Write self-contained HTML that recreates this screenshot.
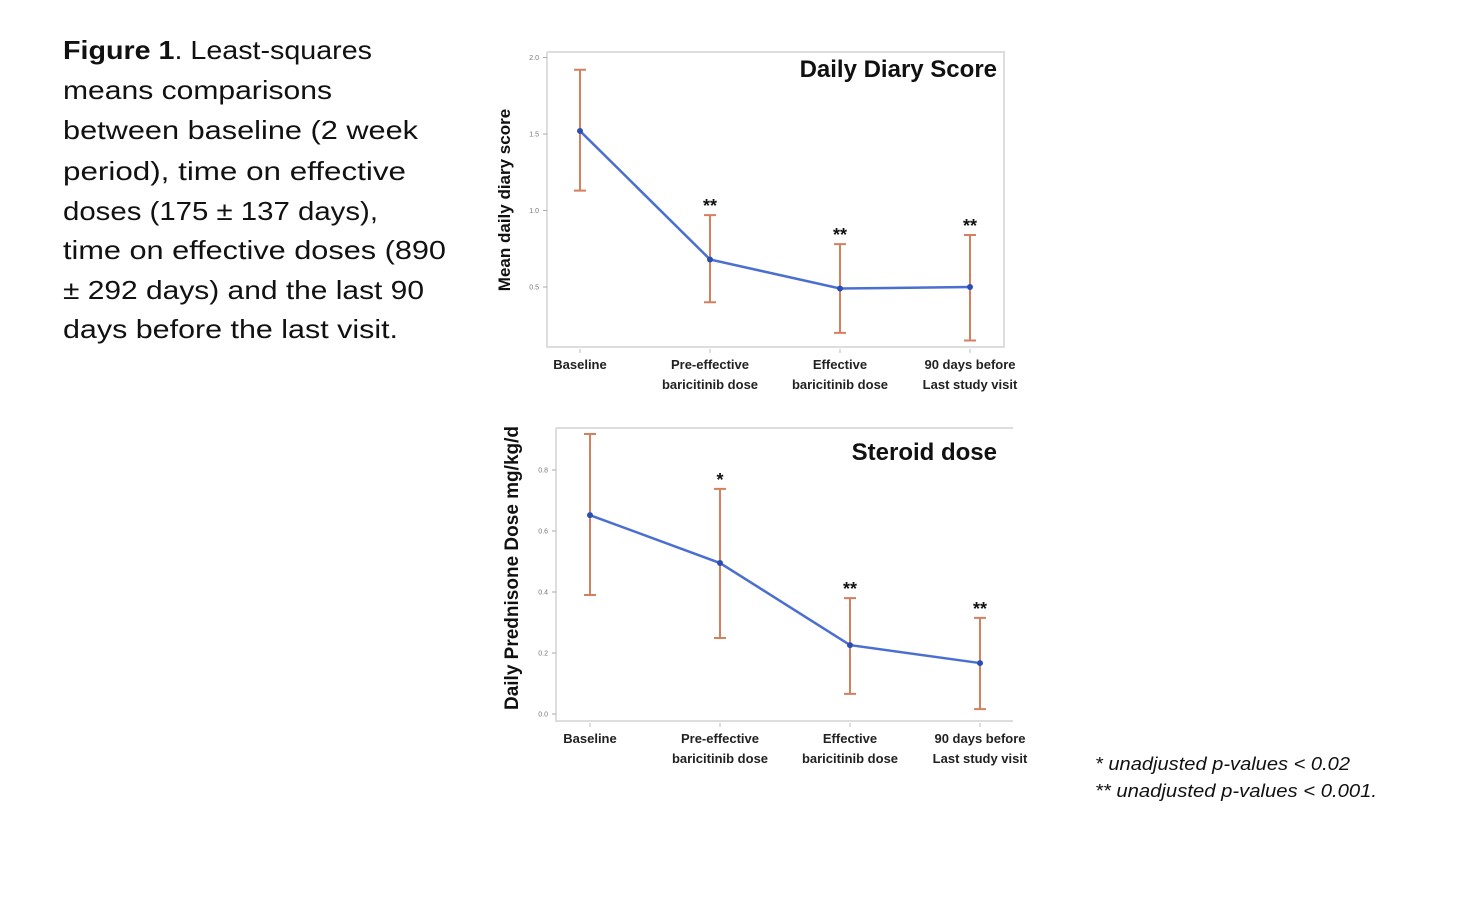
<!DOCTYPE html>
<html><head><meta charset="utf-8"><style>
body{margin:0;background:#fff;width:1472px;height:915px;overflow:hidden;font-family:"Liberation Sans",sans-serif}
svg{position:absolute;left:0;top:0}
</style></head><body>
<svg id="s" width="1472" height="915">
<g font-size="26" fill="#111">
<text x="63" y="59" textLength="309" lengthAdjust="spacingAndGlyphs"><tspan font-weight="bold">Figure 1</tspan>. Least-squares</text>
<text x="63" y="99" textLength="269" lengthAdjust="spacingAndGlyphs">means comparisons</text>
<text x="63" y="139" textLength="355" lengthAdjust="spacingAndGlyphs">between baseline (2 week</text>
<text x="63" y="180" textLength="343" lengthAdjust="spacingAndGlyphs">period), time on effective</text>
<text x="63" y="220" textLength="315" lengthAdjust="spacingAndGlyphs">doses (175 ± 137 days),</text>
<text x="63" y="259" textLength="383" lengthAdjust="spacingAndGlyphs">time on effective doses (890</text>
<text x="63" y="299" textLength="361" lengthAdjust="spacingAndGlyphs">± 292 days) and the last 90</text>
<text x="63" y="338" textLength="335" lengthAdjust="spacingAndGlyphs">days before the last visit.</text>
</g>
<g font-size="18" font-style="italic" fill="#111">
<text x="1095" y="770" textLength="255" lengthAdjust="spacingAndGlyphs">* unadjusted p-values &lt; 0.02</text>
<text x="1095" y="797" textLength="282" lengthAdjust="spacingAndGlyphs">** unadjusted p-values &lt; 0.001.</text>
</g>
</svg>
<script>
const categories1=["Baseline","Pre-effective|baricitinib dose","Effective|baricitinib dose","90 days before|Last study visit"];
const diaryMean=[1.52,0.68,0.49,0.50];
const diaryLow=[1.13,0.40,0.20,0.15];
const diaryHigh=[1.92,0.97,0.78,0.84];
const diarySig=["","**","**","**"];
const diaryTicks=[0.5,1.0,1.5,2.0];
const steroidMean=[0.652,0.495,0.226,0.167];
const steroidLow=[0.39,0.249,0.066,0.016];
const steroidHigh=[0.918,0.738,0.38,0.315];
const steroidSig=["","*","**","**"];
const steroidTicks=[0.0,0.2,0.4,0.6,0.8];
const NS="http://www.w3.org/2000/svg",svg=document.getElementById('s');
function mk(t,a,p){const e=document.createElementNS(NS,t);for(const k in a)e.setAttribute(k,a[k]);(p||svg).appendChild(e);return e;}
function chart(o){
 const g=mk('g',{});
 
 
 const y=v=>o.y0+(v-o.v0)*o.k, x=i=>o.xs+i*o.dx;
 const fr=mk('path',{d:`M${o.L} ${o.T}H${o.R}${o.rb?'V'+o.B:'M'+o.R+' '+o.B}H${o.L}V${o.T}`,fill:'none',stroke:'#ddd','stroke-width':2},g);
 
 o.ticks.forEach(t=>{const yy=y(t);
  const l=mk('line',{x1:o.L-4,x2:o.L,y1:yy,y2:yy,stroke:'#aaa'},g);
  const tx=mk('text',{x:o.L-8,y:yy+2.5,'font-size':7,fill:'#777','text-anchor':'end'},g);tx.textContent=t.toFixed(1);
  });
 const yt=mk('text',{transform:`translate(${o.yl[0]},${o.yl[1]}) rotate(-90)`,'font-size':o.ylfs,'font-weight':'bold','text-anchor':'middle',fill:'#111'},g);
 yt.textContent=o.ylabel;
 const tt=mk('text',{x:o.tt[0],y:o.tt[1],'font-size':24,'font-weight':'bold','text-anchor':'end',fill:'#111'},g);
 tt.textContent=o.title;
 categories1.forEach((c,i)=>{c.split('|').forEach((ln,j)=>{const t=mk('text',{x:x(i),y:o.B+22+j*20,'font-size':13,'font-weight':'bold','text-anchor':'middle',fill:'#222'},g);t.textContent=ln;
  });
  mk('line',{x1:x(i),x2:x(i),y1:o.B+2,y2:o.B+6,stroke:'#bbb'},g);});
 o.mean.forEach((m,i)=>{const xx=x(i);
  const e=mk('path',{d:`M${xx} ${y(o.hi[i])}V${y(o.lo[i])}M${xx-6} ${y(o.hi[i])}h12M${xx-6} ${y(o.lo[i])}h12`,stroke:'#d4805f','stroke-width':2,fill:'none'},g);
  
  if(o.sig[i]){const s=mk('text',{x:xx,y:y(o.hi[i])-3,'font-size':18,'font-weight':'bold','text-anchor':'middle',fill:'#111'},g);s.textContent=o.sig[i];
   }});
 const ln=mk('polyline',{points:o.mean.map((m,i)=>x(i)+','+y(m)).join(' '),fill:'none',stroke:'#4a6fd0','stroke-width':2.5},g);
 
 o.mean.forEach((m,i)=>{const c=mk('circle',{cx:x(i),cy:y(m),r:3,fill:'#2a4fb0'},g);});
}
chart({name:'daily-diary-chart',L:547,R:1004,T:52,B:347,rb:true,y0:287,v0:0.5,k:-153,xs:580,dx:130,ticks:diaryTicks,mean:diaryMean,lo:diaryLow,hi:diaryHigh,sig:diarySig,ylabel:'Mean daily diary score',ylfs:17,yl:[510,200],title:'Daily Diary Score',tt:[997,77]});
chart({name:'steroid-dose-chart',L:556,R:1013,T:428,B:721,rb:false,y0:714,v0:0,k:-305,xs:590,dx:130,ticks:steroidTicks,mean:steroidMean,lo:steroidLow,hi:steroidHigh,sig:steroidSig,ylabel:'Daily Prednisone  Dose mg/kg/d',ylfs:19,yl:[518,568],title:'Steroid dose',tt:[997,460]});
</script>
</body></html>
